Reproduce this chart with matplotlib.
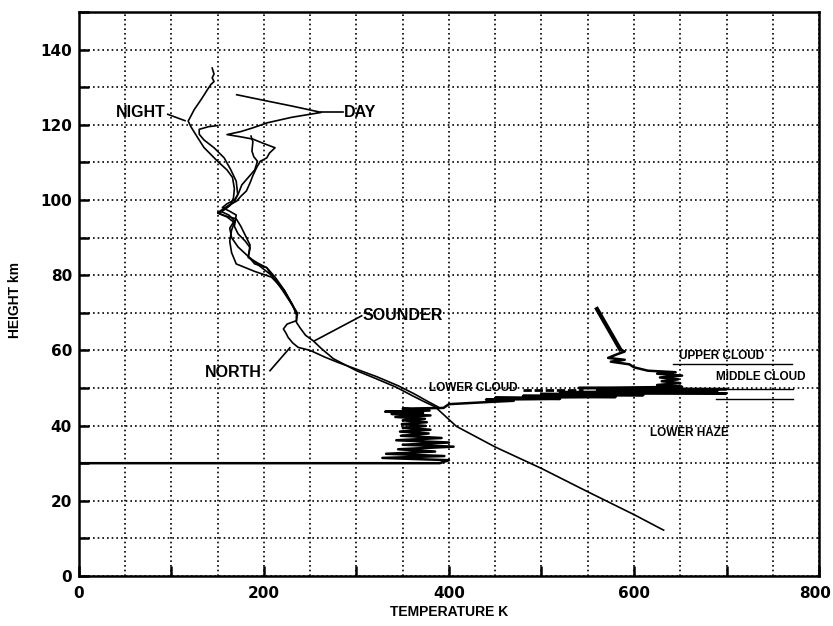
import matplotlib
matplotlib.use("Agg")
import matplotlib.pyplot as plt
from matplotlib.ticker import MultipleLocator, FuncFormatter
from matplotlib.transforms import ScaledTranslation

# Temperature (K) / height (km) profiles
night_T = [144, 146, 144, 146, 142.5, 139, 132, 124.5, 119, 118, 121, 126, 135, 149, 160, 166, 168,
           167, 163, 155, 150, 160, 168, 165, 163, 165, 170, 190, 208, 222, 231, 236]
night_z = [135.1, 133.5, 132.5, 131.5, 130.7, 129.4, 126.7, 124, 121.4, 121, 119.5, 117.5, 114,
           110.5, 108, 106, 103, 100.5, 98.5, 97, 96.5, 95.5, 94, 92, 89, 86, 83, 81, 79.5, 76, 72, 70]

day_T = [170.5, 200, 230, 262, 230, 203, 195, 188, 175, 160, 175, 188, 200, 212, 206, 203, 196, 192,
         188, 185, 181, 175, 170.5, 163, 155, 150, 158, 170, 175, 180, 185, 183, 190, 203, 210, 220,
         228, 233, 236]
day_z = [128, 126.5, 125, 123.3, 122, 120.5, 119.8, 119.2, 118.2, 117.4, 116.8, 116.2, 115, 113.9,
         112.5, 111.2, 110.3, 108.6, 106.5, 104.6, 102.4, 101, 99.7, 98.8, 97.5, 96.6, 95.8, 95, 93,
         90.5, 88, 85, 83, 82, 79.4, 76, 73, 71, 69.5]

third_T = [150, 140, 130, 130, 135, 146, 157, 164, 170, 171.6, 168, 160, 153, 162, 168, 163, 165,
           172, 183, 195, 208, 220, 230, 235]
third_z = [119.8, 119.5, 118.8, 117.5, 116, 113.9, 111.2, 108.1, 105, 101.5, 99.5, 98, 97, 96, 94.5,
           92.5, 90, 87.5, 85, 82.5, 80, 76.5, 72.5, 70]

fourth_T = [186, 188, 187, 189, 193, 190, 183, 176, 172, 168, 160, 155, 163, 170, 168, 172, 180, 185,
            183, 195, 203, 212, 222, 231, 235]
fourth_z = [117, 115.5, 113, 111.5, 110.3, 108, 106, 104, 101.5, 100, 99, 98, 97, 96, 93, 91, 89,
            87.3, 84.7, 83, 82, 79.5, 76, 72, 69.5]

sounder_T = [236, 235, 239, 245, 253, 262, 275, 300, 320, 343, 360, 372, 385, 408, 450, 500, 550,
             601, 628, 632]
sounder_z = [69.5, 67.5, 66, 64, 62.6, 60.5, 57.8, 54.6, 52.6, 50.2, 48, 46.5, 45, 39.8, 34.3, 28.6,
             22.4, 16.2, 12.7, 12.2]

north_T = [235, 235, 225, 221, 224, 226, 231, 237, 250, 265, 280, 300, 322, 345, 362, 378, 388]
north_z = [69, 67.9, 67, 65.7, 64.5, 63.5, 62, 60.8, 60, 58.3, 56.8, 55, 53, 50.6, 48.5, 46.3, 45]

# descent trace through the haze and cloud layers
cloud_T = [0, 390, 400, 328, 395, 332, 385, 345, 405, 350, 400, 343, 392, 348, 378, 347, 380, 350,
           375, 349, 376, 350, 374, 342, 380, 338, 372, 331, 379, 350, 394,
           400, 430, 445, 470, 440, 520, 450, 580, 480, 610, 500, 700, 520, 690, 560, 700, 540, 652,
           625, 650, 630, 648, 628, 652, 625, 645, 615, 600, 595, 575, 590, 572, 582, 590, 585]
cloud_z = [30, 30, 30.8, 31.4, 31.9, 32.5, 33.1, 33.7, 34.4, 34.9, 35.5, 36.1, 36.7, 37.3, 37.9,
           38.4, 38.9, 39.4, 39.9, 40.4, 40.9, 41.4, 41.8, 42.3, 42.7, 43.1, 43.4, 43.7, 44.0, 44.5,
           44.7,
           45.7, 46.1, 46.3, 46.6, 46.9, 47.1, 47.4, 47.6, 47.9, 48.1, 48.4, 48.6, 48.9, 49.2, 49.5,
           49.7, 50.0, 50.3, 50.8, 51.3, 51.8, 52.3, 52.8, 53.3, 53.8, 54.2, 54.6, 55.5, 56.3, 57,
           57.5, 58, 59, 59.7, 60.3]
top_T = [585, 560]
top_z = [60.3, 71]
dash_T = [480, 545]
dash_z = [49.4, 49.4]

# cloud layer boundaries
bound_z = [56.3, 49.8, 47.2]
bound_x0 = [642, 650, 689]
bound_x1 = [771, 772, 772]

fig = plt.figure(figsize=(8.33, 6.26), dpi=100)
ax = fig.add_axes([0.0948, 0.0799, 0.8884, 0.9009])

for T, z in [(night_T, night_z), (day_T, day_z), (third_T, third_z), (fourth_T, fourth_z),
             (sounder_T, sounder_z), (north_T, north_z)]:
    ax.plot(T, z, color="black", lw=1.2)

ax.plot(cloud_T, cloud_z, color="black", lw=1.8)
ax.plot(top_T, top_z, color="black", lw=3)
ax.plot(dash_T, dash_z, color="black", lw=2, linestyle=(0, (3, 1)))
for z, x0, x1 in zip(bound_z, bound_x0, bound_x1):
    ax.plot([x0, x1], [z, z], color="black", lw=1)

# leader lines
ax.plot([96, 114.6], [122.8, 121.1], color="black", lw=1.2)
ax.plot([262, 285.6], [123.3, 123.3], color="black", lw=1.2)
ax.plot([206.5, 228], [54.6, 60.7], color="black", lw=1.2)
ax.plot([255, 305.6], [62.6, 69.2], color="black", lw=1.2)

lab = dict(family="Liberation Sans", fontweight="bold", ha="center", va="center")
ax.text(67, 123.2, "NIGHT", fontsize=11.5, **lab)
ax.text(304, 123.2, "DAY", fontsize=11.5, **lab)
ax.text(350, 69.2, "SOUNDER", fontsize=11.5, **lab)
ax.text(167, 54, "NORTH", fontsize=11.5, **lab)
ax.text(426, 49.9, "LOWER CLOUD", fontsize=8.5, **lab)
ax.text(695, 58.6, "UPPER CLOUD", fontsize=8.5, **lab)
ax.text(737, 52.9, "MIDDLE CLOUD", fontsize=8.5, **lab)
ax.text(660, 37.9, "LOWER HAZE", fontsize=8.5, **lab)

ax.set_xlim(0, 800)
ax.set_ylim(0, 150)
ax.xaxis.set_major_locator(MultipleLocator(100))
ax.xaxis.set_minor_locator(MultipleLocator(50))
ax.yaxis.set_major_locator(MultipleLocator(20))
ax.yaxis.set_minor_locator(MultipleLocator(10))
ax.xaxis.set_major_formatter(FuncFormatter(lambda v, p: f"{int(v)}" if int(v) % 200 == 0 else ""))
ax.tick_params(axis="both", which="both", direction="in", width=1.8, length=7)
ax.tick_params(axis="both", which="major", labelsize=11)
ax.tick_params(axis="x", which="minor", length=0)
ax.tick_params(axis="x", pad=7)
ax.tick_params(axis="y", pad=5)
for t in ax.get_xticklabels() + ax.get_yticklabels():
    t.set_fontweight("bold")
ax.grid(True, which="both", color="black", linestyle=(0, (1, 1.8)), lw=1.2)
for s in ax.spines.values():
    s.set_linewidth(1.8)

# keep the last x label inside the canvas
fig.canvas.draw()
for tick in ax.xaxis.get_major_ticks():
    if abs(tick.get_loc() - 800) < 1:
        tick.label1.set_transform(tick.label1.get_transform()
                                  + ScaledTranslation(-3 / 72, 0, fig.dpi_scale_trans))

fig.text(0.018, 0.52, "HEIGHT km", rotation=90, fontsize=10, family="Liberation Sans",
         fontweight="bold", ha="center", va="center")
fig.text(0.539, 0.022, "TEMPERATURE K", fontsize=10, family="Liberation Sans",
         fontweight="bold", ha="center", va="center")

fig.savefig("out.png", dpi=100)
